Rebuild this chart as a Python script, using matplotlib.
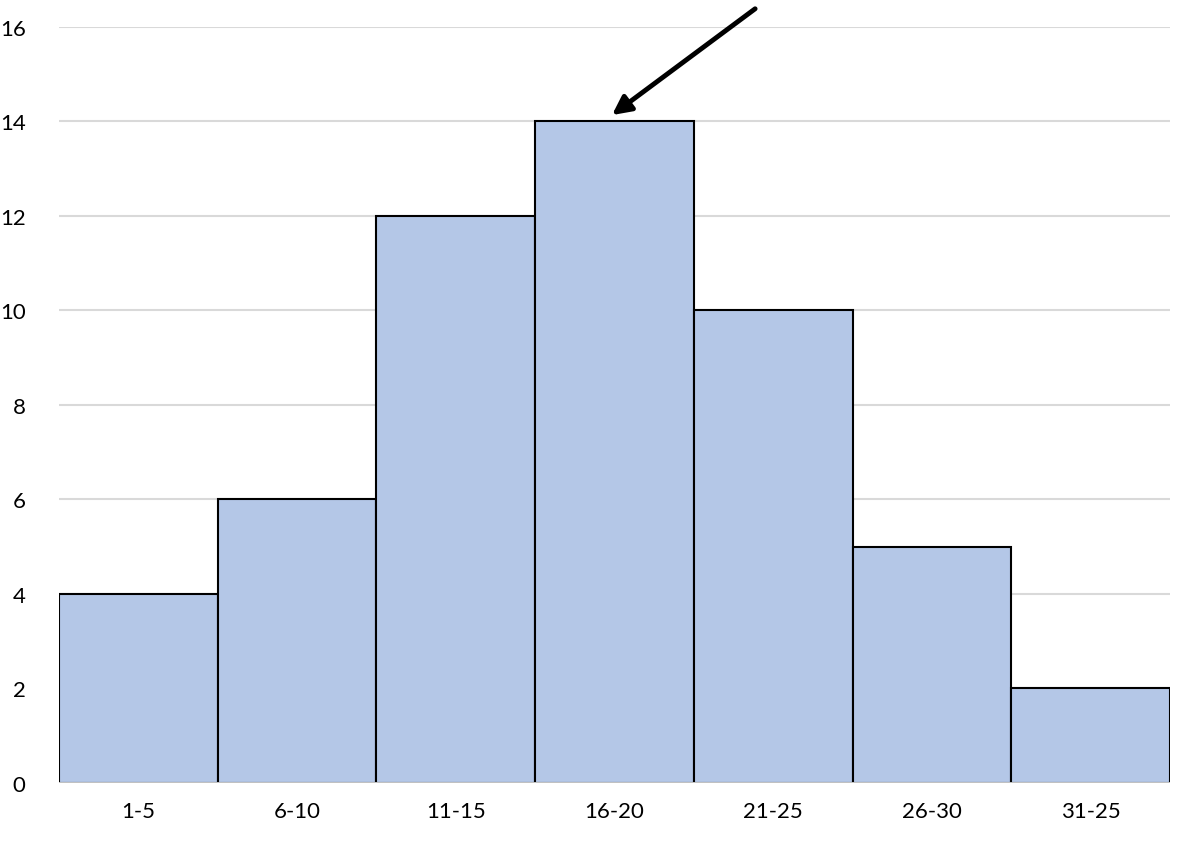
import numpy as np
import matplotlib.pyplot as plt

# 数据
categories = ['1-5', '6-10', '11-15', '16-20', '21-25', '26-30', '31-25']
counts = [4, 6, 12, 14, 10, 5, 2]
yticks = [0, 2, 4, 6, 8, 10, 12, 14, 16]

plt.rcParams['font.family'] = ['Lato', 'DejaVu Sans']

fig = plt.figure(figsize=(11.87, 8.45), dpi=100)
ax = fig.add_axes([0.0497, 0.0722, 0.936, 0.8947])

x = np.arange(len(categories))
ax.bar(x, counts, width=1.0, color='#b4c7e7', edgecolor='black', linewidth=1.5, zorder=2)

# 网格线
ax.set_ylim(0, 16)
ax.set_xlim(-0.5, len(categories) - 0.5)
ax.set_yticks(yticks)
ax.yaxis.grid(True, color='#d9d9d9', linewidth=1.5, zorder=0)
ax.axhline(0, color='#d9d9d9', linewidth=2, zorder=3)
ax.set_axisbelow(True)

ax.set_xticks(x)
ax.set_xticklabels(categories)
ax.tick_params(axis='both', length=0, labelsize=16, colors='black')
ax.tick_params(axis='x', pad=13)
ax.tick_params(axis='y', pad=24)
for s in ax.spines.values():
    s.set_visible(False)

# 箭头指向最高的柱子
imax = int(np.argmax(counts))
ax.annotate('', xy=(imax - 0.03, counts[imax] + 0.1), xytext=(imax + 0.9, counts[imax] + 2.42),
            arrowprops=dict(arrowstyle='-|>', color='black', lw=3.5, mutation_scale=28),
            annotation_clip=False)

fig.savefig('out.png', dpi=100)
